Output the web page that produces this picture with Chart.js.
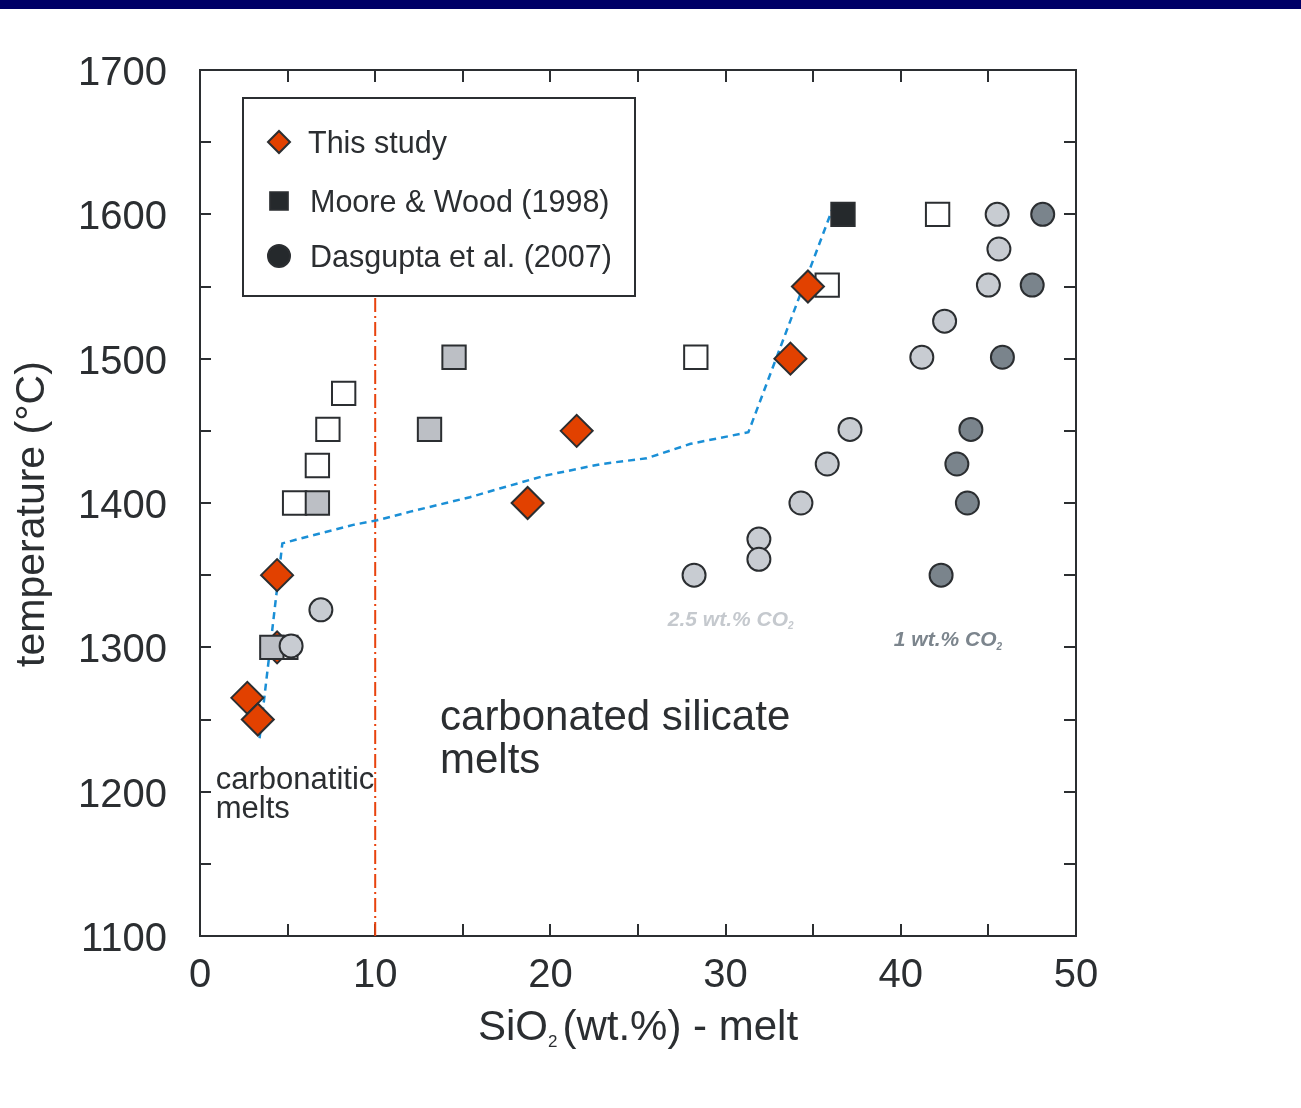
<!DOCTYPE html>
<html>
<head>
<meta charset="utf-8">
<script src="https://cdn.jsdelivr.net/npm/chart.js@4.4.0/dist/chart.umd.min.js"></script>
<style>
  body { margin: 0; background: #fff; }
  #topBar { position: absolute; left: 0; top: 0; width: 1301px; height: 9px; background: #000066; }
  canvas { display: block; }
</style>
</head>
<body>
<div id="topBar"></div>
<canvas id="meltChart" width="1301" height="1108"></canvas>
<script>
// This study (experiments)
const studyX = [2.7, 3.3, 4.4, 18.7, 21.5, 33.7, 34.7];
const studyT = [1265, 1250, 1350, 1400, 1450, 1500, 1550];
// the 1300 °C run sits underneath the Moore & Wood squares
const studyLowX = [4.4];
const studyLowT = [1300];

// Moore & Wood (1998)
const openSqX = [4.9, 5.4, 6.7, 7.3, 8.2, 28.3, 35.8, 42.1];
const openSqT = [1300, 1400, 1426, 1451, 1476, 1501, 1551, 1600];
const greySqX = [4.1, 6.7, 13.1, 14.5];
const greySqT = [1300, 1400, 1451, 1501];
const blackSqX = [36.7];
const blackSqT = [1600];

// Dasgupta et al. (2007), 2.5 wt.% CO2
const lightX = [5.2, 6.9, 28.2, 31.9, 31.9, 34.3, 35.8, 37.1, 41.2, 42.5, 45.0, 45.6, 45.5];
const lightT = [1301, 1326, 1350, 1375, 1361, 1400, 1427, 1451, 1501, 1526, 1551, 1576, 1600];
// Dasgupta et al. (2007), 1 wt.% CO2
const darkX = [42.3, 43.8, 43.2, 44.0, 45.8, 47.5, 48.1];
const darkT = [1350, 1400, 1427, 1451, 1501, 1551, 1600];

// carbonatite / silicate melt transition
const solidusX = [3.4, 4.7, 5.6, 8.8, 10.1, 12.0, 13.7, 15.4, 17.1, 19.7, 22.9, 25.5, 28.0, 31.3, 36.2];
const solidusT = [1237, 1372, 1375, 1385, 1388, 1394, 1399, 1404, 1410, 1419, 1427, 1431, 1441, 1449, 1607];

// 10 wt.% SiO2 divide
const divideX = [10, 10];
const divideT = [1100, 1543];

const xTickMarks = [5, 10, 15, 20, 25, 30, 35, 40, 45];
const yTickMarks = [1150, 1200, 1250, 1300, 1350, 1400, 1450, 1500, 1550, 1600, 1650];

const FONT = "'Liberation Sans', Arial, sans-serif";
const INK = '#2b2e31';
const ORANGE = '#e24100';

function pts(xs, ts) {
  return xs.map((x, i) => ({ x: x, y: ts[i] }));
}

function markerSet(label, xs, ts, style, radius, fill, order) {
  return {
    label: label,
    data: pts(xs, ts),
    pointStyle: style,
    pointRadius: radius,
    pointBackgroundColor: fill,
    pointBorderColor: INK,
    pointBorderWidth: 2,
    showLine: false,
    order: order
  };
}

const datasets = [
  markerSet('This study', studyX, studyT, 'rectRot', 16, ORANGE, 0),
  markerSet('Dasgupta 2.5', lightX, lightT, 'circle', 11.5, '#c8ccd2', 1),
  markerSet('Dasgupta 1', darkX, darkT, 'circle', 11.5, '#7a848c', 1),
  markerSet('Moore black', blackSqX, blackSqT, 'rect', 16.5, '#25292c', 2),
  markerSet('Moore grey', greySqX, greySqT, 'rect', 16.5, '#bcbfc5', 2),
  markerSet('Moore open', openSqX, openSqT, 'rect', 16.5, '#ffffff', 3),
  markerSet('This study low', studyLowX, studyLowT, 'rectRot', 16, ORANGE, 4),
  {
    label: 'transition',
    data: pts(solidusX, solidusT),
    showLine: true,
    borderColor: '#1a8fd6',
    borderWidth: 2.5,
    borderDash: [7, 5],
    pointRadius: 0,
    tension: 0,
    order: 5
  },
  {
    label: 'divide',
    data: pts(divideX, divideT),
    showLine: true,
    borderColor: '#e8430e',
    borderWidth: 2,
    borderDash: [14, 4, 2, 4],
    pointRadius: 0,
    order: 6
  }
];

// text with a subscript part, e.g. SiO2
function drawSubText(ctx, parts, x, y, align) {
  let total = 0;
  parts.forEach(p => { ctx.font = p.font; total += ctx.measureText(p.text).width + (p.gap || 0); });
  let cx = align === 'center' ? x - total / 2 : x;
  ctx.textAlign = 'left';
  parts.forEach(p => {
    ctx.font = p.font;
    ctx.fillText(p.text, cx, y + (p.dy || 0));
    cx += ctx.measureText(p.text).width + (p.gap || 0);
  });
}

const decorations = {
  id: 'decorations',
  beforeDatasetsDraw(chart) {
    const { ctx, chartArea: a, scales: { x, y } } = chart;
    ctx.save();
    ctx.strokeStyle = INK;
    ctx.lineWidth = 2;
    ctx.beginPath();
    ctx.moveTo(a.left, a.top);
    ctx.lineTo(a.right, a.top);
    ctx.lineTo(a.right, a.bottom);
    xTickMarks.forEach(v => {
      const px = Math.round(x.getPixelForValue(v));
      ctx.moveTo(px, a.bottom); ctx.lineTo(px, a.bottom - 12);
      ctx.moveTo(px, a.top); ctx.lineTo(px, a.top + 12);
    });
    yTickMarks.forEach(v => {
      const py = Math.round(y.getPixelForValue(v));
      ctx.moveTo(a.left, py); ctx.lineTo(a.left + 11, py);
      ctx.moveTo(a.right, py); ctx.lineTo(a.right - 12, py);
    });
    ctx.stroke();
    ctx.restore();
  },
  afterDraw(chart) {
    const { ctx, chartArea: a, scales: { x, y } } = chart;
    ctx.save();
    ctx.fillStyle = INK;
    ctx.textBaseline = 'alphabetic';

    // axis titles
    ctx.save();
    ctx.translate(44, (a.top + a.bottom) / 2 + 11);
    ctx.rotate(-Math.PI / 2);
    ctx.font = '41px ' + FONT;
    ctx.textAlign = 'center';
    ctx.fillText('temperature (°C)', 0, 0);
    ctx.restore();

    drawSubText(ctx, [
      { text: 'SiO', font: '42px ' + FONT },
      { text: '2', font: '17px ' + FONT, dy: 7, gap: 5 },
      { text: '(wt.%) - melt', font: '42px ' + FONT }
    ], (a.left + a.right) / 2, 1040, 'center');

    // region labels
    ctx.textAlign = 'left';
    ctx.font = '31px ' + FONT;
    ctx.fillText('carbonatitic', x.getPixelForValue(0.9), y.getPixelForValue(1202));
    ctx.fillText('melts', x.getPixelForValue(0.9), y.getPixelForValue(1182));
    ctx.font = '42px ' + FONT;
    ctx.fillText('carbonated silicate', x.getPixelForValue(13.7), y.getPixelForValue(1243));
    ctx.fillText('melts', x.getPixelForValue(13.7), y.getPixelForValue(1213));

    ctx.fillStyle = '#c5c9ce';
    drawSubText(ctx, [
      { text: '2.5 wt.% CO', font: 'italic bold 21px ' + FONT },
      { text: '2', font: 'italic bold 10px ' + FONT, dy: 3 }
    ], x.getPixelForValue(26.7), y.getPixelForValue(1315), 'left');
    ctx.fillStyle = '#7c858d';
    drawSubText(ctx, [
      { text: '1 wt.% CO', font: 'italic bold 21px ' + FONT },
      { text: '2', font: 'italic bold 10px ' + FONT, dy: 4 }
    ], x.getPixelForValue(39.6), y.getPixelForValue(1301), 'left');

    // legend box
    const lx = a.left + 43, ly = a.top + 28, lw = 392, lh = 198;
    ctx.fillStyle = '#ffffff';
    ctx.fillRect(lx, ly, lw, lh);
    ctx.strokeStyle = INK;
    ctx.lineWidth = 2;
    ctx.strokeRect(lx, ly, lw, lh);

    const rows = [
      { text: 'This study', style: 'rectRot', radius: 11, fill: ORANGE, dy: 44, tx: 65 },
      { text: 'Moore & Wood (1998)', style: 'rect', radius: 12.5, fill: '#25292c', dy: 103, tx: 67 },
      { text: 'Dasgupta et al. (2007)', style: 'circle', radius: 11, fill: '#25292c', dy: 158, tx: 67 }
    ];
    rows.forEach(r => {
      ctx.fillStyle = r.fill;
      ctx.strokeStyle = INK;
      ctx.lineWidth = 2;
      Chart.helpers.drawPoint(ctx, { pointStyle: r.style, radius: r.radius, rotation: 0, borderWidth: 2 }, lx + 36, ly + r.dy);
      ctx.fillStyle = INK;
      ctx.font = '30.5px ' + FONT;
      ctx.textAlign = 'left';
      ctx.fillText(r.text, lx + r.tx, ly + r.dy + 10.5);
    });
    ctx.restore();
  }
};

new Chart(document.getElementById('meltChart'), {
  type: 'scatter',
  data: { datasets: datasets },
  options: {
    responsive: false,
    animation: false,
    layout: { padding: { top: 70, right: 225, left: 0, bottom: 0 } },
    plugins: { legend: { display: false }, tooltip: { enabled: false } },
    scales: {
      x: {
        type: 'linear',
        min: 0,
        max: 50,
        ticks: { stepSize: 10, color: INK, font: { family: FONT, size: 40 }, padding: 16 },
        grid: { drawOnChartArea: false, drawTicks: false },
        border: { color: INK, width: 2 },
        afterFit: s => { s.height = 172; }
      },
      y: {
        type: 'linear',
        min: 1100,
        max: 1700,
        ticks: {
          stepSize: 100, color: INK, font: { family: FONT, size: 40 }, padding: 33, labelOffset: 4,
          callback: v => String(v)
        },
        grid: { drawOnChartArea: false, drawTicks: false },
        border: { color: INK, width: 2 },
        afterFit: s => { s.width = 200; }
      }
    }
  },
  plugins: [decorations]
});
</script>
</body>
</html>
